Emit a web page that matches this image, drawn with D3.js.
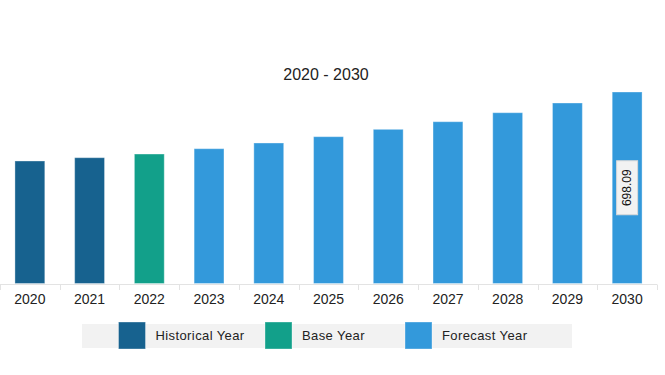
<!DOCTYPE html>
<html>
<head>
<meta charset="utf-8">
<script src="https://cdn.jsdelivr.net/npm/d3@7"></script>
<style>
  body { margin: 0; background: #fff; }
  svg { display: block; font-family: "Liberation Sans", Arial, sans-serif; }
</style>
</head>
<body>
<div id="graph"></div>
<script>
var years = ['2020', '2021', '2022', '2023', '2024', '2025', '2026', '2027', '2028', '2029', '2030']
var values = [446.6, 458.6, 472.0, 491.4, 512.2, 535.2, 562.0, 589.8, 622.6, 658.0, 698.09]
var kinds = ['Historical Year', 'Historical Year', 'Base Year', 'Forecast Year', 'Forecast Year',
  'Forecast Year', 'Forecast Year', 'Forecast Year', 'Forecast Year', 'Forecast Year', 'Forecast Year']
var legendKeys = ['Historical Year', 'Base Year', 'Forecast Year']
var colors = ['#17628f', '#12a08a', '#3399db']
var labelled = ['2030']
var title = '2020 - 2030'

var width = 665, height = 375
var svg = d3.select('#graph').append('svg')
  .attr('width', width).attr('height', height)

var color = d3.scaleOrdinal().domain(legendKeys).range(colors)

// plot area
var x0 = 0, x1 = 657, yBase = 283.5
var x = d3.scaleBand().domain(years).range([x0, x1]).paddingInner(0.5).paddingOuter(0.25)
var y = d3.scaleLinear().domain([0, 698.09]).range([yBase, 92])

svg.append('text')
  .attr('x', 326).attr('y', 80)
  .attr('text-anchor', 'middle')
  .attr('font-size', 16)
  .attr('fill', '#222')
  .text(title)

// axis
var band = (x1 - x0) / years.length
var axis = svg.append('g')
axis.append('line')
  .attr('x1', x0).attr('x2', x1)
  .attr('y1', 284.5).attr('y2', 284.5)
  .attr('stroke', '#e3e3e3')
axis.selectAll('line.tick')
  .data(d3.range(0, years.length + 1))
  .join('line')
  .attr('class', 'tick')
  .attr('x1', i => Math.round(x0 + i * band) + 0.5)
  .attr('x2', i => Math.round(x0 + i * band) + 0.5)
  .attr('y1', 284.5).attr('y2', 290)
  .attr('stroke', '#e3e3e3')
axis.selectAll('text')
  .data(years)
  .join('text')
  .attr('x', d => x(d) + x.bandwidth() / 2)
  .attr('y', 304)
  .attr('text-anchor', 'middle')
  .attr('font-size', 14)
  .attr('fill', '#222')
  .text(d => d)

// bars
svg.append('g').selectAll('rect')
  .data(years)
  .join('rect')
  .attr('x', d => x(d))
  .attr('width', x.bandwidth())
  .attr('y', (d, i) => y(values[i]))
  .attr('height', (d, i) => y(0) - y(values[i]))
  .attr('fill', (d, i) => color(kinds[i]))
  .attr('stroke', 'rgba(255,255,255,0.35)')
  .attr('stroke-width', 1)

// value label
labelled.forEach(yr => {
  var i = years.indexOf(yr)
  var cx = x(yr) + x.bandwidth() / 2
  var cy = (y(values[i]) + y(0)) / 2
  var g = svg.append('g').attr('transform', `translate(${cx},${cy}) rotate(-90)`)
  g.append('rect')
    .attr('x', -27).attr('y', -10.5)
    .attr('width', 54).attr('height', 21)
    .attr('fill', '#f2f2f2')
    .attr('stroke', '#d8d8d8')
  g.append('text')
    .attr('text-anchor', 'middle')
    .attr('dy', '0.36em')
    .attr('font-size', 12)
    .attr('fill', '#111')
    .text(d3.format('.2f')(values[i]))
})

// legend
var legend = svg.append('g')
legend.append('rect')
  .attr('x', 82).attr('y', 324)
  .attr('width', 490).attr('height', 24)
  .attr('fill', '#f2f2f2')
var swatchX = [118.5, 265, 405]
var item = legend.selectAll('g.item')
  .data(legendKeys)
  .join('g')
  .attr('class', 'item')
  .attr('transform', (d, i) => `translate(${swatchX[i]},322)`)
item.append('rect')
  .attr('width', 27).attr('height', 27)
  .attr('fill', d => color(d))
  .attr('stroke', 'rgba(255,255,255,0.35)')
item.append('text')
  .attr('x', 37).attr('y', 18)
  .attr('font-size', 13)
  .attr('letter-spacing', 0.4)
  .attr('fill', '#222')
  .text(d => d)
</script>
</body>
</html>
